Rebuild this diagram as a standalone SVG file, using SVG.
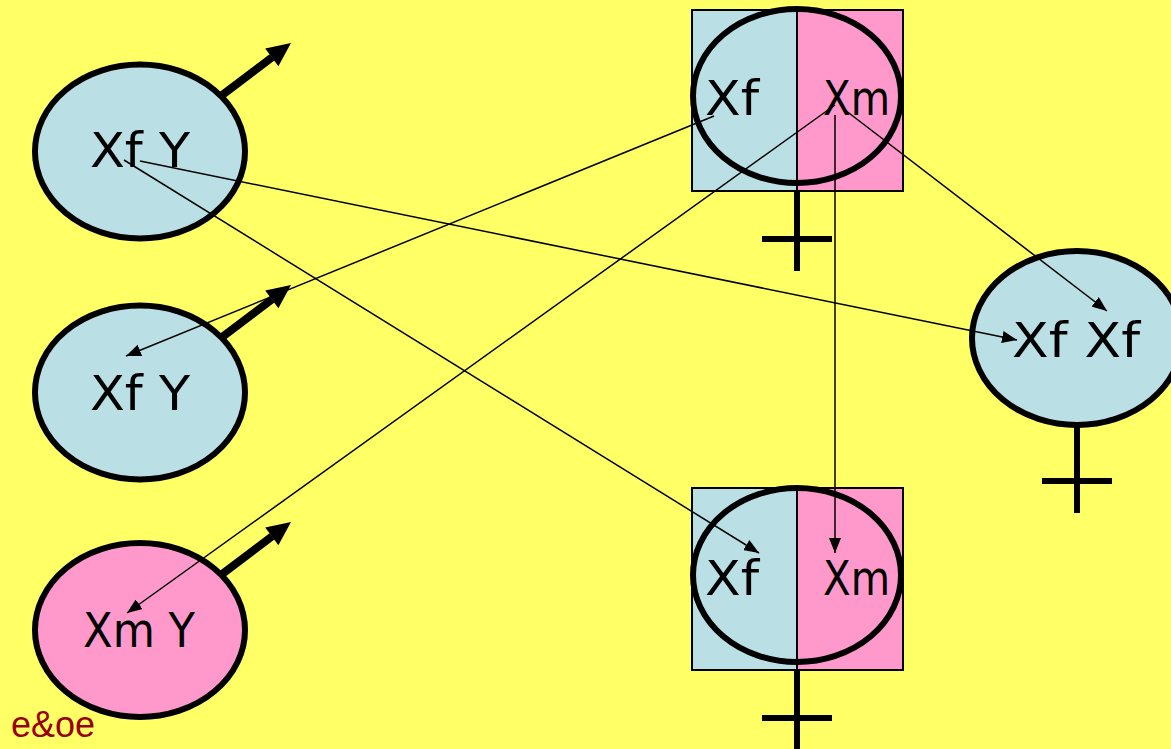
<svg xmlns="http://www.w3.org/2000/svg" width="1171" height="749" viewBox="0 0 1171 749">
<defs>
<style>
.blue{fill:#BADFE5}
.pink{fill:#FF99CC}
.ell{stroke:#000;stroke-width:6}
.lbl{font-family:"DejaVu Sans",sans-serif;font-size:48px;fill:#000}
.sym{stroke:#000;stroke-width:6;fill:none}
.half{stroke:#000;stroke-width:2}
.conn{stroke:#000;stroke-width:1.5;fill:none;marker-end:url(#ah)}
.male{stroke:#000;stroke-width:8;fill:none}
</style>
<marker id="ah" viewBox="0 0 15 12" refX="15" refY="6" markerWidth="15" markerHeight="12" markerUnits="userSpaceOnUse" orient="auto">
<path d="M0,0 L15,6 L0,12 z" fill="#000"/>
</marker>
</defs>
<rect x="0" y="0" width="1171" height="749" fill="#FFFF66"/>

<g id="male1">
<line class="male" x1="205" y1="108" x2="272" y2="57.4"/>
<polygon points="291,43 278.4,66.2 265.2,48.6" fill="#000"/>
</g>
<g id="male2">
<line class="male" x1="205" y1="350" x2="272" y2="299.4"/>
<polygon points="291,285 278.4,308.2 265.2,290.6" fill="#000"/>
</g>
<g id="male3">
<line class="male" x1="205" y1="587" x2="272" y2="536.4"/>
<polygon points="291,522 278.4,545.2 265.2,527.6" fill="#000"/>
</g>

<g id="fatherXfY1">
<ellipse class="blue ell" cx="140" cy="151.5" rx="105" ry="87"/>
<text class="lbl" x="90" y="167" textLength="100" lengthAdjust="spacingAndGlyphs">Xf Y</text>
</g>
<g id="fatherXfY2">
<ellipse class="blue ell" cx="140" cy="392.5" rx="105" ry="87"/>
<text class="lbl" x="90" y="410" textLength="100" lengthAdjust="spacingAndGlyphs">Xf Y</text>
</g>
<g id="fatherXmY">
<ellipse class="pink ell" cx="140" cy="630" rx="105" ry="87"/>
<text class="lbl" x="83" y="647" textLength="112" lengthAdjust="spacingAndGlyphs">Xm Y</text>
</g>

<g id="motherTop">
<line class="sym" x1="797" y1="185" x2="797" y2="271"/>
<line class="sym" x1="762" y1="239" x2="832" y2="239"/>
<rect class="blue half" x="692" y="10" width="105" height="181"/>
<rect class="pink half" x="797" y="10" width="106" height="181"/>
<ellipse cx="797" cy="96" rx="104" ry="87" fill="none" stroke="#000" stroke-width="6"/>
<text class="lbl" x="705" y="115" textLength="54" lengthAdjust="spacingAndGlyphs">Xf</text>
<text class="lbl" x="823" y="115" textLength="67" lengthAdjust="spacingAndGlyphs">Xm</text>
</g>

<g id="motherBottom">
<line class="sym" x1="797" y1="664" x2="797" y2="749"/>
<line class="sym" x1="762" y1="718" x2="832" y2="718"/>
<rect class="blue half" x="692" y="488" width="105" height="182"/>
<rect class="pink half" x="797" y="488" width="106" height="182"/>
<ellipse cx="797" cy="575" rx="104" ry="87" fill="none" stroke="#000" stroke-width="6"/>
<text class="lbl" x="705" y="595" textLength="54" lengthAdjust="spacingAndGlyphs">Xf</text>
<text class="lbl" x="823" y="595" textLength="67" lengthAdjust="spacingAndGlyphs">Xm</text>
</g>

<g id="daughterXfXf">
<line class="sym" x1="1077" y1="427" x2="1077" y2="513"/>
<line class="sym" x1="1042" y1="481" x2="1112" y2="481"/>
<ellipse class="blue ell" cx="1077" cy="338" rx="105" ry="87"/>
<text class="lbl" x="1012" y="357" textLength="128" lengthAdjust="spacingAndGlyphs">Xf Xf</text>
</g>

<g id="connectors">
<line class="conn" x1="714" y1="116" x2="126" y2="356"/>
<line class="conn" x1="835" y1="105" x2="127" y2="613"/>
<line class="conn" x1="845" y1="110" x2="1107" y2="311"/>
<line class="conn" x1="835" y1="115" x2="835" y2="553"/>
<line class="conn" x1="140" y1="161" x2="1017" y2="340"/>
<line class="conn" x1="124" y1="160" x2="759" y2="553"/>
</g>

<text x="11" y="737" font-family="Liberation Sans, Arial, sans-serif" font-size="36" fill="#990000">e&amp;oe</text>
</svg>
